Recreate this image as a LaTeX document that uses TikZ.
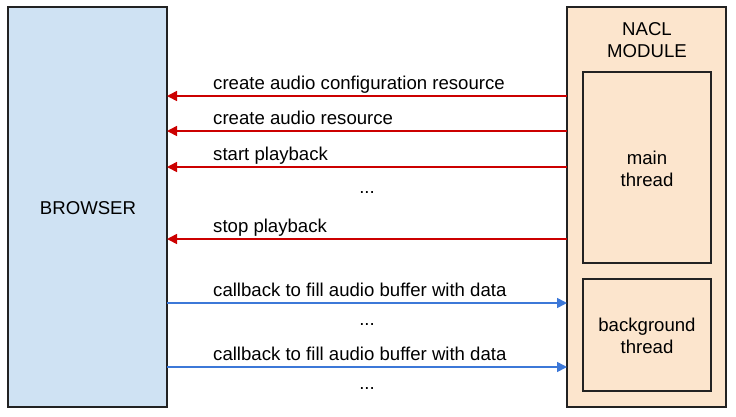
\documentclass[tikz,border=0pt]{standalone}
\usepackage{fontspec}
\setmainfont{Liberation Sans}
\usetikzlibrary{arrows.meta}
\definecolor{bfill}{HTML}{CFE2F3}
\definecolor{nfill}{HTML}{FCE5CD}
\definecolor{redarr}{HTML}{CC0000}
\definecolor{bluearr}{HTML}{3C78D8}
\definecolor{edge}{HTML}{222222}
\begin{document}
\begin{tikzpicture}[x=1pt,y=-1pt,
  box/.style={draw=edge,line width=1.5pt},
  lbl/.style={font=\fontsize{18.6}{22}\selectfont,anchor=base west,inner sep=0pt},
  txt/.style={font=\fontsize{18.6}{22}\selectfont,align=center,inner sep=0pt},
  redline/.style={draw=redarr,line width=1.6pt,-{Triangle[length=10pt,width=10pt]}},
  blueline/.style={draw=bluearr,line width=1.6pt,-{Triangle[length=10pt,width=10pt]}}]
\useasboundingbox (0,0) rectangle (736,416);
\path[box,fill=bfill] (8,7) rectangle (167,407);
\path[box,fill=nfill] (567,7) rectangle (726,407);
\path[box] (583,72) rectangle (711,263);
\path[box] (583,279) rectangle (711,391);
\node[txt] (browser) at (88,208) {BROWSER};
\node[txt] (nacl) at (647,40) {NACL\\MODULE};
\node[txt] (main) at (647,169) {main\\thread};
\node[txt] (bg) at (647,336) {background\\thread};
\coordinate (bR) at (167,0);
\coordinate (nL) at (567,0);
\foreach \y/\t in {96/create audio configuration resource,131/create audio resource,167/start playback,239/stop playback}{
  \draw[redline] (nL |- 0,\y) -- (bR |- 0,\y);
  \node[lbl] at (213,\y-7) {\t};
}
\foreach \y in {303,367}{
  \draw[blueline] (bR |- 0,\y) -- (nL |- 0,\y);
  \node[lbl] at (213,\y-7) {callback to fill audio buffer with data};
}
\node[txt] (d1) at (367,192) {...};
\node[txt] (d2) at (367,324) {...};
\node[txt] (d3) at (367,388) {...};
\end{tikzpicture}
\end{document}
